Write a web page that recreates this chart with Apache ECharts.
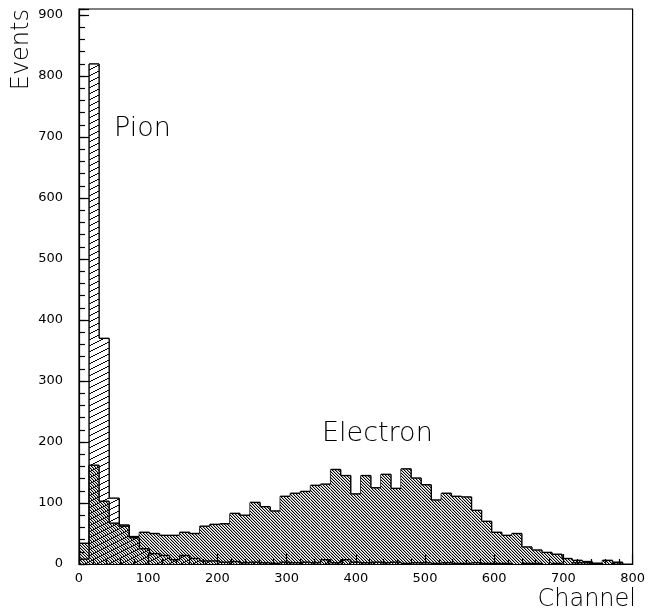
<!DOCTYPE html>
<html><head><meta charset="utf-8">
<script src="https://cdn.jsdelivr.net/npm/echarts@6/dist/echarts.min.js"></script>
<style>html,body{margin:0;padding:0;background:#fff}#c{width:648px;height:610px}</style>
</head><body><div id="c"></div>
<script>
// ---- data ----
const channelMin = 0;
const channelMax = 800;
const eventsMax = 910;
const xTickLabels = ['0','100','200','300','400','500','600','700','800'];
const yTickLabels = ['0','100','200','300','400','500','600','700','800','900'];
const electronCounts = [34,162,103,67,64,45,52,50,47,47,52,50,62,65,66,83,80,101,94,87,111,116,119,129,131,155,145,115,145,125,147,124,156,141,130,105,116,111,110,88,70,52,47,50,28,23,19,16,9,6,4,1,6,3,0];
const pionCounts = [8,820,370,108,62,43,25,17,14,7,14,9,5,5,3,4,2,3,2,1,3,2,3,2,7,2,7,3,2,3,2,3,1,2,2,1,2,1,1,2,1,1,1,0,1,1,0,1,0,2,2,1,0,2,0];
const labels = {x: 'Channel', y: 'Events', pion: 'Pion', electron: 'Electron'};

// ---- patterns (pixel exact) ----
function pixelPattern(w, h, shade) {
  const c = document.createElement('canvas'); c.width = w; c.height = h;
  const ctx = c.getContext('2d'); const img = ctx.createImageData(w, h);
  for (let y = 0; y < h; y++) for (let x = 0; x < w; x++) {
    const s = shade(x, y); const k = (y * w + x) * 4;
    if (s === null) { img.data[k+3] = 0; continue; }
    img.data[k] = s; img.data[k+1] = s; img.data[k+2] = s; img.data[k+3] = 255;
  }
  ctx.putImageData(img, 0, 0);
  return {image: c, repeat: 'repeat'};
}
const denseFill = pixelPattern(3, 3, (x, y) => { const m = ((x - y) % 3 + 3) % 3; return m === 0 ? 0 : (m === 1 ? 175 : 255); });
const sparseFill = pixelPattern(12, 6, (x, y) => {
  const ly = ((Math.floor((12 - x) / 2)) % 6 + 6) % 6;
  return y === ly ? 0 : null;
});

function histSeries(name, counts, fill, z) {
  const binW = (channelMax - channelMin) / counts.length;
  return {
    type: 'custom', name, z, silent: true, clip: true,
    xAxisIndex: 0, yAxisIndex: 0,
    data: counts.map((v, i) => [channelMin + i * binW, channelMin + (i + 1) * binW, v]),
    encode: {x: [0, 1], y: 2},
    renderItem(params, api) {
      const i = params.dataIndex;
      const x0 = api.value(0), x1 = api.value(1), v = api.value(2);
      const next = i + 1 < counts.length ? counts[i + 1] : 0;
      const a = api.coord([x0, v]), b = api.coord([x1, 0]);
      const c = api.coord([x1, next]);
      const ls = {stroke: '#000', lineWidth: 1.4, fill: null};
      const ch = [];
      if (v > 0) {
        ch.push({type: 'rect', shape: {x: a[0], y: a[1], width: b[0] - a[0], height: b[1] - a[1]}, style: {fill: fill}});
        ch.push({type: 'line', shape: {x1: a[0], y1: a[1], x2: b[0], y2: a[1]}, style: ls});
      }
      if (next !== v) ch.push({type: 'line', shape: {x1: b[0], y1: a[1], x2: b[0], y2: c[1]}, style: ls});
      if (i === 0 && v > 0) ch.push({type: 'line', shape: {x1: a[0], y1: b[1], x2: a[0], y2: a[1]}, style: ls});
      return {type: 'group', children: ch};
    }
  };
}

const FONT = 'DejaVu Sans';
const chart = echarts.init(document.getElementById('c'), null, {renderer: 'canvas'});
function ink() { return {color: '#000', width: 1.2}; }
chart.setOption({
  animation: false,
  backgroundColor: '#fff',
  grid: {left: 79, right: 15, top: 9, bottom: 46, show: true, borderColor: '#000', borderWidth: 1.2, backgroundColor: 'transparent'},
  xAxis: [{
    type: 'value', min: channelMin, max: channelMax, interval: 100, position: 'bottom', z: 10,
    axisLine: {show: true, onZero: false, lineStyle: ink()},
    axisTick: {show: true, inside: true, length: 10, lineStyle: ink()},
    minorTick: {show: true, splitNumber: 5, length: 5, lineStyle: ink()},
    splitLine: {show: false}, minorSplitLine: {show: false},
    axisLabel: {color: '#000', fontFamily: FONT, fontSize: 13, margin: 8,
      formatter: v => { const s = String(v); return xTickLabels.includes(s) ? s : ''; }}
  }],
  yAxis: [{
    type: 'value', min: 0, max: eventsMax, interval: 100, position: 'left', z: 10,
    axisLine: {show: true, onZero: false, lineStyle: ink()},
    axisTick: {show: true, inside: true, length: 10, lineStyle: ink()},
    splitLine: {show: false},
    axisLabel: {color: '#000', fontFamily: FONT, fontSize: 13, margin: 16,
      formatter: v => { const s = String(v); return yTickLabels.includes(s) ? s : ''; }}
  }, {
    type: 'value', min: 0, max: eventsMax, interval: 20, position: 'left', z: 10,
    axisLine: {show: false}, splitLine: {show: false}, axisLabel: {show: false},
    axisTick: {show: true, inside: true, length: 6, lineStyle: ink()}
  }],
  graphic: [
    {type: 'text', id: 'ylab', x: 10, y: 9, rotation: Math.PI / 2,
      style: {text: labels.y, font: '200 24px "' + FONT + '"', fill: '#000', align: 'right', verticalAlign: 'top'}},
    {type: 'text', id: 'xlab', x: 636, y: 600,
      style: {text: labels.x, font: '200 24px "' + FONT + '"', fill: '#000', align: 'right', verticalAlign: 'middle'}},
    {type: 'text', id: 'pion', x: 114, y: 129,
      style: {text: labels.pion, font: '200 27px "' + FONT + '"', fill: '#000', align: 'left', verticalAlign: 'middle'}},
    {type: 'text', id: 'elec', x: 322, y: 434,
      style: {text: labels.electron, font: '200 27px "' + FONT + '"', fill: '#000', align: 'left', verticalAlign: 'middle'}}
  ],
  series: [
    histSeries('Electron', electronCounts, denseFill, 2),
    histSeries('Pion', pionCounts, sparseFill, 3)
  ]
});
</script></body></html>
